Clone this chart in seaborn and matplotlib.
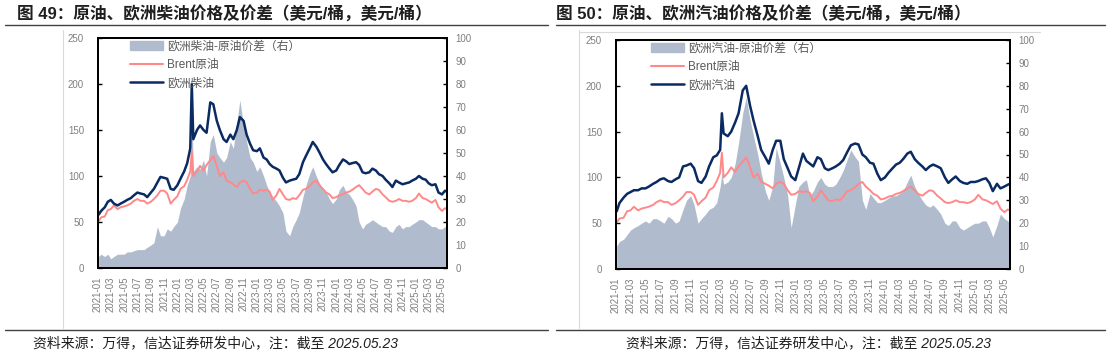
import pandas as pd
import seaborn as sns
import matplotlib.pyplot as plt
import matplotlib.dates as mdates
from matplotlib.patches import Patch
from matplotlib.lines import Line2D

# sample dates (semi-monthly, plus the March 2022 spike and the last day)
dates = [
    "2021-01-04", "2021-01-15", "2021-02-01", "2021-02-15", "2021-03-01", "2021-03-15",
    "2021-04-01", "2021-04-15", "2021-05-01", "2021-05-15", "2021-06-01", "2021-06-15",
    "2021-07-01", "2021-07-15", "2021-08-01", "2021-08-15", "2021-09-01", "2021-09-15",
    "2021-10-01", "2021-10-15", "2021-11-01", "2021-11-15", "2021-12-01", "2021-12-15",
    "2022-01-01", "2022-01-15", "2022-02-01", "2022-02-15", "2022-03-01", "2022-03-08",
    "2022-03-15", "2022-04-01", "2022-04-15", "2022-05-01", "2022-05-15", "2022-06-01",
    "2022-06-15", "2022-07-01", "2022-07-15", "2022-08-01", "2022-08-15", "2022-09-01",
    "2022-09-15", "2022-10-01", "2022-10-15", "2022-11-01", "2022-11-15", "2022-12-01",
    "2022-12-15",
    "2023-01-01", "2023-01-15", "2023-02-01", "2023-02-15", "2023-03-01", "2023-03-15",
    "2023-04-01", "2023-04-15", "2023-05-01", "2023-05-15", "2023-06-01", "2023-06-15",
    "2023-07-01", "2023-07-15", "2023-08-01", "2023-08-15", "2023-09-01", "2023-09-15",
    "2023-10-01", "2023-10-15", "2023-11-01", "2023-11-15", "2023-12-01", "2023-12-15",
    "2024-01-01", "2024-01-15", "2024-02-01", "2024-02-15", "2024-03-01", "2024-03-15",
    "2024-04-01", "2024-04-15", "2024-05-01", "2024-05-15", "2024-06-01", "2024-06-15",
    "2024-07-01", "2024-07-15", "2024-08-01", "2024-08-15", "2024-09-01", "2024-09-15",
    "2024-10-01", "2024-10-15", "2024-11-01", "2024-11-15", "2024-12-01", "2024-12-15",
    "2025-01-01", "2025-01-15", "2025-02-01", "2025-02-15", "2025-03-01", "2025-03-15",
    "2025-04-01", "2025-04-15", "2025-05-01", "2025-05-15", "2025-05-23",
]

brent = [
    51, 55, 56, 63, 64, 68, 64, 66, 67, 68, 70, 73, 75, 73, 73, 70, 72, 75, 79, 84, 84, 81, 70, 74,
    78, 86, 89, 96, 105, 127, 100, 105, 111, 106, 112, 117, 122, 111, 100, 104, 95, 93, 91, 88, 93, 95, 93, 86, 81,
    82, 85, 84, 85, 83, 74, 79, 86, 80, 75, 74, 76, 75, 79, 85, 86, 89, 93, 95, 90, 86, 82, 80, 76,
    77, 79, 80, 82, 83, 85, 88, 90, 86, 82, 80, 83, 86, 85, 80, 77, 73, 72, 73, 75, 73, 73, 72, 73,
    76, 81, 76, 75, 73, 71, 74, 66, 62, 65, 64,
]

diesel = [
    58, 62, 66, 72, 74, 70, 68, 70, 72, 74, 76, 79, 82, 81, 80, 77, 82, 86, 93, 99, 98, 97, 86, 85,
    90, 97, 105, 114, 130, 200, 140, 150, 155, 150, 147, 180, 178, 160, 150, 140, 137, 145, 140, 150, 164, 160, 145, 135, 128,
    127, 130, 120, 118, 113, 110, 108, 106, 98, 93, 95, 96, 97, 102, 115, 122, 130, 137, 132, 126, 118, 113, 108, 104,
    106, 112, 118, 116, 113, 114, 115, 112, 104, 103, 104, 108, 106, 102, 100, 96, 92, 88, 95, 93, 91, 92, 93, 95,
    97, 100, 97, 96, 92, 90, 91, 82, 80, 84, 83,
]

diesel_spread = [
    5, 6, 5, 6, 4, 5, 6, 6, 6, 7, 7, 7.5, 8, 8, 8, 9, 10, 11, 18, 14, 14, 17, 16, 18,
    20, 26, 30, 36, 40, 70, 42, 44, 43, 47, 40, 55, 58, 50, 48, 46, 48, 55, 52, 63, 73, 62, 55, 48, 46,
    42, 44, 40, 36, 33, 31, 29, 27, 24, 16, 14, 18, 21, 24, 31, 36, 41, 44, 40, 37, 34, 33, 30, 28,
    30, 34, 36, 33, 32, 30, 27, 20, 17, 19, 20, 21, 20, 19, 18, 18, 16, 15.5, 18, 19, 17, 18, 18, 19,
    20, 21, 21, 20, 19, 18, 18, 17, 17, 18, 18,
]

gasoline = [
    63, 72, 78, 82, 84, 86, 86, 88, 88, 90, 93, 95, 98, 99, 96, 95, 98, 100, 112, 113, 115, 110, 96, 94,
    101, 112, 122, 124, 130, 170, 148, 145, 150, 160, 170, 195, 200, 178, 162, 145, 130, 122, 115, 130, 140, 140, 120, 110, 101,
    97, 110, 126, 118, 115, 112, 122, 120, 110, 108, 110, 112, 115, 119, 128, 135, 137, 136, 125, 122, 116, 115, 104, 97,
    100, 105, 110, 114, 116, 120, 126, 128, 120, 116, 112, 108, 112, 114, 112, 110, 100, 94, 98, 101, 96, 94, 93, 95,
    95, 96, 98, 99, 94, 85, 93, 88, 90, 92, 93,
]

gasoline_spread = [
    10, 12, 13, 15, 17, 18, 19, 20, 21, 20, 22, 22, 21, 20, 23, 22, 20, 21, 26, 30, 32, 28, 20, 22,
    24, 26, 27, 29, 36, 42, 37, 38, 40, 46, 55, 68, 75, 65, 58, 50, 42, 34, 30, 36, 53, 46, 40, 32, 18,
    28, 36, 38, 39, 32, 34, 38, 40, 37, 36, 36, 37, 40, 43, 48, 52, 49, 47, 30, 26, 33, 31, 29, 29,
    30, 31, 32, 32, 33, 34, 38, 41, 36, 33, 30, 28, 27, 28, 26, 24, 20, 19, 21, 21, 18, 17, 18, 19,
    20, 20, 21, 21, 18, 14, 19, 24, 22, 21, 20,
]

GRAY = "#b0bccd"
PINK = "#ff8989"
NAVY = "#0a2a62"
TXT = "#7f7f7f"

sns.set_theme(style="white")
plt.rcParams['font.family'] = ['Liberation Sans', 'Noto Sans CJK SC']
plt.rcParams['axes.unicode_minus'] = False

x = pd.to_datetime(dates)
fig = plt.figure(figsize=(11.08, 3.55), dpi=100)


def panel(rect, spread, product, spread_name, product_name):
    ax = fig.add_axes(rect)
    ax.fill_between(x, spread, color=GRAY, lw=0)
    ax.set_ylim(0, 100)
    ax.set_yticks(range(0, 101, 10))
    ax.set_xlim(pd.Timestamp("2021-01-01"), pd.Timestamp("2025-05-24"))
    ax.xaxis.set_major_locator(mdates.MonthLocator(bymonth=[1, 3, 5, 7, 9, 11]))
    ax.xaxis.set_major_formatter(mdates.DateFormatter("%Y-%m"))

    ax2 = ax.twinx()
    sns.lineplot(x=x, y=brent, ax=ax2, color=PINK, lw=1.4)
    sns.lineplot(x=x, y=product, ax=ax2, color=NAVY, lw=1.8)
    ax2.set_ylim(0, 250)
    ax2.set_yticks(range(0, 251, 50))

    # spread axis on the right, price axis on the left
    ax.yaxis.tick_right()
    ax2.yaxis.tick_left()
    ax.tick_params(axis='x', direction='in', length=3, width=1, color='black', pad=6,
                   labelsize=7, labelcolor=TXT, labelrotation=90, bottom=True)
    ax.tick_params(axis='y', direction='in', length=3, width=1, color='black', pad=6,
                   labelsize=7, labelcolor=TXT, left=False, labelleft=False,
                   right=True, labelright=True)
    ax2.tick_params(axis='y', direction='in', length=3, width=1, color='black', pad=10,
                    labelsize=7, labelcolor=TXT, left=True, labelleft=True,
                    right=False, labelright=False)
    ax2.tick_params(axis='x', bottom=False, labelbottom=False)
    ax2.set_xlabel("")
    ax2.set_ylabel("")
    ax.set_xlabel("")
    for a in (ax, ax2):
        for s in a.spines.values():
            s.set_color('black')
            s.set_linewidth(1.4)

    handles = [Patch(color=GRAY), Line2D([], [], color=PINK, lw=1.5),
               Line2D([], [], color=NAVY, lw=1.8)]
    labels = [spread_name, "Brent原油", product_name]
    leg = ax2.legend(handles, labels, loc='upper left', bbox_to_anchor=(0.07, 1.02),
                     frameon=False, fontsize=8.5, handlelength=2.8, handleheight=0.8,
                     handletextpad=0.4, labelspacing=0.55, borderaxespad=0.2)
    for t in leg.get_texts():
        t.set_color('#595959')
    return ax


panel([98 / 1108, 87 / 355, 349 / 1108, 230 / 355], diesel_spread, diesel,
      "欧洲柴油-原油价差（右）", "欧洲柴油")
panel([616 / 1108, 86 / 355, 394 / 1108, 229 / 355], gasoline_spread, gasoline,
      "欧洲汽油-原油价差（右）", "欧洲汽油")

# titles
fig.text(17 / 1108, 1 - 14 / 355, "图 49：原油、欧洲柴油价格及价差（美元/桶，美元/桶）",
         ha='left', va='center', fontsize=12, weight='bold', color='#1f1f1f')
fig.text(556 / 1108, 1 - 14 / 355, "图 50：原油、欧洲汽油价格及价差（美元/桶，美元/桶）",
         ha='left', va='center', fontsize=12, weight='bold', color='#1f1f1f')

# source notes
note = "资料来源：万得，信达证券研发中心，注：截至 2025.05.23"
fig.text(33 / 1108, 1 - 343 / 355, note, ha='left', va='center', fontsize=10,
         style='italic', color='#1f1f1f')
fig.text(626 / 1108, 1 - 343 / 355, note, ha='left', va='center', fontsize=10,
         style='italic', color='#1f1f1f')

# rules under titles and above notes
for x0, x1 in [(5, 548), (556, 1105)]:
    fig.add_artist(Line2D([x0 / 1108, x1 / 1108], [1 - 25 / 355] * 2, color='#404040', lw=1))
    fig.add_artist(Line2D([x0 / 1108, x1 / 1108], [1 - 330 / 355] * 2, color='#404040', lw=1))

# faint chart-area borders
for xb in (63, 579):
    fig.add_artist(Line2D([xb / 1108] * 2, [1 - 30 / 355, 1 - 328 / 355], color='#d9d9d9', lw=0.8))
fig.add_artist(Line2D([579 / 1108, 1040 / 1108], [1 - 32 / 355] * 2, color='#d9d9d9', lw=0.8))

fig.savefig("out.png", dpi=100)
